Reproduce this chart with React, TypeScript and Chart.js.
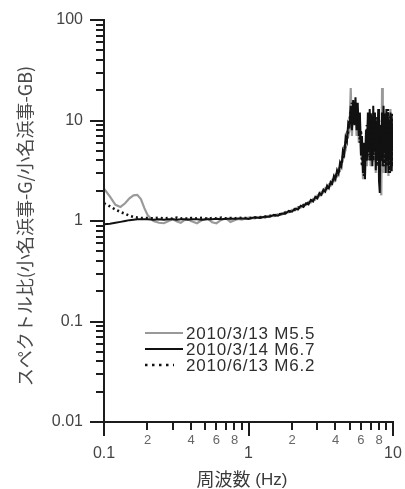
import { useEffect, useRef } from "react";
import { Chart, registerables } from "chart.js";

Chart.register(...registerables);

// Frequency samples (Hz)
const freqHz = [
  0.10, 0.11, 0.12, 0.13, 0.14, 0.15, 0.16, 0.17, 0.18, 0.19,
  0.20, 0.22, 0.24, 0.26, 0.28, 0.30, 0.32, 0.34, 0.36, 0.38,
  0.40, 0.44, 0.48, 0.52, 0.56, 0.60, 0.65, 0.70, 0.75, 0.80,
  0.85, 0.90, 0.95,
  1.0, 1.1, 1.2, 1.3, 1.4, 1.5, 1.6, 1.7, 1.8, 1.9,
  2.0, 2.1, 2.2, 2.3, 2.4, 2.5, 2.6, 2.7, 2.8, 2.9,
  3.0, 3.1, 3.2, 3.3, 3.4, 3.5, 3.6, 3.7, 3.8, 3.9,
  4.0, 4.1, 4.2, 4.3, 4.4, 4.5, 4.6, 4.7, 4.8, 4.9,
  5.0, 5.1, 5.2, 5.3, 5.4, 5.5, 5.6, 5.7, 5.8, 5.9,
  6.0, 6.1, 6.2, 6.3, 6.4, 6.5, 6.6, 6.7, 6.8, 6.9,
  7.0, 7.1, 7.2, 7.3, 7.4, 7.5, 7.6, 7.7, 7.8, 7.9,
  8.0, 8.1, 8.2, 8.3, 8.4, 8.5, 8.6, 8.7, 8.8, 8.9,
  9.0, 9.1, 9.2, 9.3, 9.4, 9.5, 9.6, 9.7, 9.8, 9.9,
  10.0,
];

// Spectral ratio, 2010/3/13 M5.5
const ratioM55 = [
  2.10, 1.75, 1.45, 1.38, 1.50, 1.68, 1.80, 1.82, 1.65, 1.35,
  1.15, 1.00, 0.96, 0.95, 1.00, 1.04, 0.99, 0.96, 1.02, 1.05,
  1.00, 0.95, 1.03, 1.06, 0.97, 0.95, 1.03, 1.06, 0.98, 1.02,
  1.05, 1.03, 1.06,
  1.08, 1.06, 1.10, 1.08, 1.13, 1.12, 1.17, 1.16, 1.23, 1.22,
  1.29, 1.28, 1.37, 1.36, 1.46, 1.44, 1.55, 1.53, 1.66, 1.63,
  1.80, 1.77, 1.95, 1.92, 2.12, 2.08, 2.30, 2.25, 2.55, 2.50,
  2.90, 2.80, 3.30, 3.20, 3.90, 4.00, 5.40, 5.20, 7.40, 7.00,
  8, 21, 7, 13, 10, 15, 7, 13, 6, 10,
  5, 5.5, 2.6, 5, 3, 7, 3.5, 10, 4, 12,
  3.5, 10, 4, 12, 4, 11, 3, 9, 4.5, 12,
  3, 8, 2.5, 1.8, 21, 3, 12, 4, 10, 3,
  12, 4, 10, 2.8, 11, 4, 13, 3.5, 10, 4,
  7,
];

// Spectral ratio, 2010/3/14 M6.7
const ratioM67 = [
  0.93, 0.94, 0.96, 0.98, 1.00, 1.02, 1.03, 1.04, 1.04, 1.04,
  1.04, 1.03, 1.04, 1.03, 1.04, 1.04, 1.03, 1.04, 1.04, 1.03,
  1.04, 1.04, 1.03, 1.04, 1.04, 1.05, 1.04, 1.05, 1.05, 1.05,
  1.06, 1.06, 1.06,
  1.05, 1.09, 1.07, 1.11, 1.10, 1.15, 1.13, 1.19, 1.18, 1.26,
  1.24, 1.33, 1.30, 1.42, 1.38, 1.50, 1.46, 1.62, 1.56, 1.74,
  1.68, 1.90, 1.82, 2.05, 1.96, 2.25, 2.12, 2.45, 2.35, 2.80,
  2.60, 3.20, 2.95, 3.80, 3.50, 5.0, 4.6, 6.8, 6.2, 9.5,
  9, 14, 8, 16, 9, 17, 8, 15, 7, 12,
  4.5, 7, 3, 6, 2.6, 8, 4, 12, 5, 13,
  4, 11, 3.5, 14, 5, 12, 3.2, 10, 4, 13,
  2.5, 1.9, 9, 4, 12, 3.5, 14, 5, 11, 3,
  13, 4, 12, 3, 10, 4.5, 12, 3.2, 11, 5,
  8,
];

// Spectral ratio, 2010/6/13 M6.2
const ratioM62 = [
  1.50, 1.40, 1.30, 1.23, 1.18, 1.13, 1.10, 1.08, 1.07, 1.07,
  1.07, 1.06, 1.08, 1.06, 1.07, 1.05, 1.08, 1.06, 1.07, 1.05,
  1.07, 1.06, 1.08, 1.05, 1.07, 1.06, 1.08, 1.06, 1.07, 1.06,
  1.08, 1.07, 1.07,
  1.07, 1.08, 1.09, 1.10, 1.12, 1.13, 1.16, 1.18, 1.21, 1.23,
  1.27, 1.30, 1.35, 1.38, 1.43, 1.47, 1.51, 1.57, 1.62, 1.67,
  1.75, 1.83, 1.89, 1.98, 2.04, 2.14, 2.22, 2.33, 2.44, 2.62,
  2.76, 2.92, 3.10, 3.35, 3.70, 4.3, 5.0, 5.8, 6.8, 8.0,
  10, 12, 15, 9, 14, 10, 13, 9, 11, 6,
  8, 3.5, 5, 2.8, 6, 4, 9, 4.5, 11, 4,
  12, 5, 11, 4, 12, 5, 9, 3.5, 11, 4,
  7, 3, 6, 4, 10, 4, 11, 3.5, 12, 4,
  10, 3.5, 13, 4, 9, 3, 11, 4, 12, 3.5,
  9,
];

const seriesLabels = ["2010/3/13 M5.5", "2010/3/14 M6.7", "2010/6/13 M6.2"];

const yMajorTicks = [0.01, 0.1, 1, 10, 100];
const yMajorLabels = ["0.01", "0.1", "1", "10", "100"];
const yDecades = [0.01, 0.1, 1, 10];

const xMajorTicks = [0.1, 1, 10];
const xMajorLabels = ["0.1", "1", "10"];
const xDecades = [0.1, 1];
const xMinorLabelValues = [0.2, 0.4, 0.6, 0.8, 2, 4, 6, 8];
const xMinorLabels = ["2", "4", "6", "8", "2", "4", "6", "8"];

const minorMultiples = [2, 3, 4, 5, 6, 7, 8, 9];

const yTitle = "スペクトル比(小名浜事-G/小名浜事-GB)";
const xTitleMain = "周波数";
const xTitleUnit = " (Hz)";

const toPoints = (vals: number[]) => freqHz.map((f, i) => ({ x: f, y: vals[i] }));

const axesPlugin = {
  id: "spectralAxes",
  afterDraw(chart: any) {
    const { ctx, chartArea, scales } = chart;
    const xs = scales.x;
    const ys = scales.y;
    const left = chartArea.left;
    const bottom = chartArea.bottom;
    const majorLen = 14;
    const minorLen = 8;

    ctx.save();
    ctx.strokeStyle = "#1c1c1c";
    ctx.lineWidth = 2;
    ctx.lineCap = "butt";

    // axis lines
    ctx.beginPath();
    ctx.moveTo(left, ys.getPixelForValue(100) - 1);
    ctx.lineTo(left, bottom);
    ctx.lineTo(xs.getPixelForValue(10) + 1, bottom);
    ctx.stroke();

    // y ticks (outward)
    ctx.beginPath();
    yMajorTicks.forEach((v) => {
      const y = Math.round(ys.getPixelForValue(v));
      ctx.moveTo(left, y);
      ctx.lineTo(left - majorLen, y);
    });
    yDecades.forEach((d) => {
      minorMultiples.forEach((k) => {
        const y = Math.round(ys.getPixelForValue(d * k));
        ctx.moveTo(left, y);
        ctx.lineTo(left - minorLen, y);
      });
    });
    // x ticks (outward)
    xMajorTicks.forEach((v) => {
      const x = Math.round(xs.getPixelForValue(v));
      ctx.moveTo(x, bottom);
      ctx.lineTo(x, bottom + majorLen);
    });
    xDecades.forEach((d) => {
      minorMultiples.forEach((k) => {
        const x = Math.round(xs.getPixelForValue(d * k));
        ctx.moveTo(x, bottom);
        ctx.lineTo(x, bottom + minorLen);
      });
    });
    ctx.stroke();

    // tick labels
    ctx.fillStyle = "#444";
    ctx.font = "16px Arial, 'Liberation Sans', sans-serif";
    ctx.textAlign = "right";
    ctx.textBaseline = "middle";
    yMajorTicks.forEach((v, i) => {
      ctx.fillText(yMajorLabels[i], left - 21, ys.getPixelForValue(v));
    });
    ctx.textAlign = "center";
    xMajorTicks.forEach((v, i) => {
      ctx.fillText(xMajorLabels[i], xs.getPixelForValue(v), bottom + 32);
    });
    ctx.fillStyle = "#666";
    ctx.font = "13px Arial, 'Liberation Sans', sans-serif";
    xMinorLabelValues.forEach((v, i) => {
      ctx.fillText(xMinorLabels[i], xs.getPixelForValue(v), bottom + 18);
    });

    // axis titles
    ctx.fillStyle = "#3a3a3a";
    ctx.textAlign = "left";
    ctx.textBaseline = "middle";
    ctx.font = "18px 'Noto Sans CJK JP', sans-serif";
    const mainW = ctx.measureText(xTitleMain).width;
    ctx.font = "17px Arial, 'Liberation Sans', sans-serif";
    const unitW = ctx.measureText(xTitleUnit).width;
    const startX = 242 - (mainW + unitW) / 2;
    ctx.font = "18px 'Noto Sans CJK JP', sans-serif";
    ctx.fillText(xTitleMain, startX, 479);
    ctx.font = "17px Arial, 'Liberation Sans', sans-serif";
    ctx.fillText(xTitleUnit, startX + mainW, 480);

    ctx.save();
    ctx.translate(25, 226);
    ctx.rotate(-Math.PI / 2);
    ctx.fillStyle = "#4a4a4a";
    ctx.font = "18px 'Noto Sans CJK JP', sans-serif";
    ctx.textAlign = "center";
    ctx.fillText(yTitle, 0, 0);
    ctx.restore();

    // legend
    const legendStyles = [
      { color: "#999999", width: 2, dash: [] as number[] },
      { color: "#111111", width: 2, dash: [] as number[] },
      { color: "#111111", width: 2.5, dash: [2.5, 4.5] },
    ];
    const rows = [333, 349, 365];
    legendStyles.forEach((s, i) => {
      ctx.beginPath();
      ctx.strokeStyle = s.color;
      ctx.lineWidth = s.width;
      ctx.setLineDash(s.dash);
      ctx.moveTo(145, rows[i]);
      ctx.lineTo(i === 2 ? 174 : 183, rows[i]);
      ctx.stroke();
    });
    ctx.setLineDash([]);
    ctx.fillStyle = "#2e2e2e";
    ctx.font = "17px Arial, 'Liberation Sans', sans-serif";
    (ctx as any).letterSpacing = "0.8px";
    ctx.textAlign = "left";
    ctx.textBaseline = "middle";
    seriesLabels.forEach((t, i) => ctx.fillText(t, 186, rows[i] + 1));
    (ctx as any).letterSpacing = "0px";
    ctx.restore();
  },
};

export default function App() {
  const canvasRef = useRef<HTMLCanvasElement | null>(null);

  useEffect(() => {
    const canvas = canvasRef.current;
    if (!canvas) return;
    const chart = new Chart(canvas, {
      type: "line",
      data: {
        datasets: [
          {
            label: seriesLabels[0],
            data: toPoints(ratioM55),
            borderColor: "#9a9a9a",
            borderWidth: 2.2,
            pointRadius: 0,
            tension: 0,
            order: 3,
          },
          {
            label: seriesLabels[1],
            data: toPoints(ratioM67),
            borderColor: "#111111",
            borderWidth: 2,
            pointRadius: 0,
            tension: 0,
            order: 2,
          },
          {
            label: seriesLabels[2],
            data: toPoints(ratioM62),
            borderColor: "#111111",
            borderWidth: 2.6,
            borderDash: [2, 3],
            pointRadius: 0,
            tension: 0,
            order: 1,
          },
        ],
      },
      options: {
        responsive: false,
        animation: false,
        devicePixelRatio: 1,
        layout: { padding: { left: 104, right: 12, top: 20, bottom: 67 } },
        plugins: { legend: { display: false }, tooltip: { enabled: false } },
        scales: {
          x: { type: "logarithmic", min: 0.1, max: 10, display: false },
          y: { type: "logarithmic", min: 0.01, max: 100, display: false },
        },
      },
      plugins: [axesPlugin],
    });
    return () => chart.destroy();
  }, []);

  return (
    <div style={{ position: "fixed", left: 0, top: 0, width: 405, height: 489, background: "#fff" }}>
      <canvas ref={canvasRef} width={405} height={489} style={{ width: 405, height: 489 }} />
    </div>
  );
}
